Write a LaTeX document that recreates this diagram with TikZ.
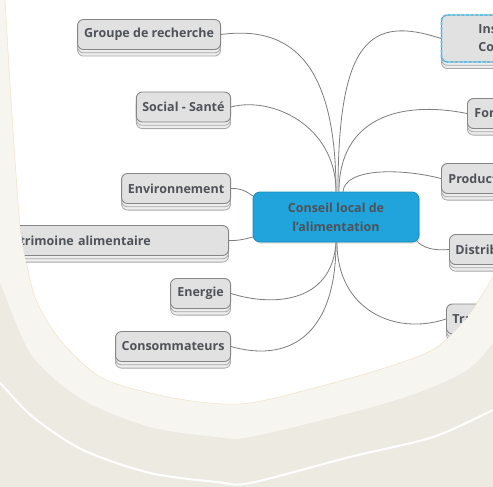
\documentclass[tikz,border=0pt]{standalone}
\usepackage{fontspec}
\setmainfont{Open Sans}
\usetikzlibrary{shadows,calc}
\definecolor{beige}{HTML}{EDEAE2}
\definecolor{band}{HTML}{F7F5F0}
\definecolor{rim}{HTML}{F0E2C6}
\definecolor{nodefill}{HTML}{E1E1E1}
\definecolor{nodeline}{HTML}{858585}
\definecolor{copyline}{HTML}{A8A8A8}
\definecolor{copyfill}{HTML}{EDEDED}
\definecolor{txt}{HTML}{4E5259}
\definecolor{centerfill}{HTML}{20A4DB}
\definecolor{centerline}{HTML}{1A8DBE}
\definecolor{selblue}{HTML}{5CC2EA}
\definecolor{connline}{HTML}{7D7D7D}
\pgfdeclarelayer{bg}
\pgfdeclarelayer{edges}
\pgfsetlayers{bg,edges,main}
\tikzset{
  blob/.style={insert path={plot[smooth] coordinates {(4,-20) (5,0) (12,115) (20,225) (28,270) (37,302) (60,340) (100,377) (150,393) (200,402) (250,403) (333,383) (400,363) (437,347) (467,317) (493,277) (510,245)} -- (540,-20) -- cycle}},
  topic/.style={draw=nodeline, line width=0.9pt, fill=nodefill, rounded corners=6pt,
    minimum height=30pt, inner xsep=6pt, inner ysep=0pt,
    font=\bfseries\fontsize{12.5}{18}\selectfont, text=txt,
    double copy shadow={shadow xshift=0pt, shadow yshift=-3.3pt, draw=copyline, fill=copyfill, line width=0.8pt}},
  cut/.style={topic, align=left, text width=70pt},
  selected/.style={postaction={draw=selblue, line width=1.8pt, dash pattern=on 3pt off 1.6pt}},
  central/.style={draw=centerline, line width=0.8pt, fill=centerfill, rounded corners=7pt,
    minimum width=166pt, minimum height=50pt, align=center,
    font=\bfseries\fontsize{12.5}{19}\selectfont, text=txt,
    drop shadow={opacity=0.25, shadow xshift=1pt, shadow yshift=-1.5pt}},
  conn/.style={draw=connline, line width=0.8pt}
}
\begin{document}
\begin{tikzpicture}[x=1pt,y=-1pt]
\useasboundingbox (0,0) rectangle (493,487);
\begin{pgfonlayer}{bg}
  \fill[beige] (-5,-5) rectangle (498,492);
  \fill[band] plot[smooth] coordinates {(-15,240) (7,300) (33,357) (83,400) (150,427) (217,437) (250,437) (350,413) (417,393) (467,370) (493,343) (515,310)} -- (540,-20) -- (-15,-20) -- cycle;
  \fill[white, blob];
  \draw[rim, line width=0.5pt, blob];
  \draw[white, line width=2pt] plot[smooth] coordinates {(-10,376) (0,383) (33,417) (83,450) (150,473) (217,482) (250,483) (350,457) (433,437) (493,410) (510,402)};
\end{pgfonlayer}
\begin{scope}
  \clip[blob];
  \node[central] (c) at (336,217) {Conseil local de\\l'alimentation};
  \node[topic, anchor=east, minimum width=143pt] (g) at (221,34.5) {Groupe de recherche};
  \node[topic, anchor=east, minimum width=94pt] (s) at (231,107) {Social - Santé};
  \node[topic, anchor=east, minimum width=109pt] (e) at (231,188.5) {Environnement};
  \node[topic, anchor=east, align=left, text width=248pt, minimum width=260pt] (p) at (229,240.5) {\hspace*{45pt}trimoine alimentaire};
  \node[topic, anchor=east, minimum width=60pt] (n) at (231,293.5) {Energie};
  \node[topic, anchor=east, minimum width=115pt] (k) at (231,346.5) {Consommateurs};
  \node[cut, selected, anchor=west, inner xsep=37pt, minimum height=47pt] (i) at (441,38.5) {Ins\\Co};
  \node[cut, anchor=west, inner xsep=7pt] (f) at (467,113.5) {For};
  \node[cut, anchor=west, inner xsep=7pt] (r) at (441,178.5) {Product};
  \node[cut, anchor=west, inner xsep=6pt] (d) at (449,249.5) {Distrib};
  \node[cut, anchor=west, inner xsep=6pt] (t) at (446,319) {Tra};
\end{scope}
\begin{pgfonlayer}{edges}
  \draw[conn] (g.east) .. controls (285,26) and (336,55) .. (c.north);
  \draw[conn] (s.east) .. controls (271,96) and (336,125) .. (c.north);
  \draw[conn] (i.west) .. controls (370,15) and (338,40) .. ([xshift=2pt]c.north);
  \draw[conn] (f.west) .. controls (400,100) and (339,118) .. ([xshift=3pt]c.north);
  \draw[conn] (r.west) .. controls (400,168) and (345,168) .. ([xshift=7pt]c.north);
  \draw[conn] (e.east) .. controls (245,188) and (250,195) .. ($(c.north west)+(3,6)$);
  \draw[conn] (p.east) .. controls (240,241) and (248,238) .. ($(c.south west)+(3,-6)$);
  \draw[conn] ($(c.south east)+(-3,-2)$) .. controls (422,248) and (435,251) .. (d.west);
  \draw[conn] (n.east) .. controls (270,306) and (332,305) .. (c.south);
  \draw[conn] (k.east) .. controls (285,362) and (336,340) .. (c.south);
  \draw[conn] (t.west) .. controls (395,336) and (337,310) .. ([xshift=1pt]c.south);
\end{pgfonlayer}
\end{tikzpicture}
\end{document}
